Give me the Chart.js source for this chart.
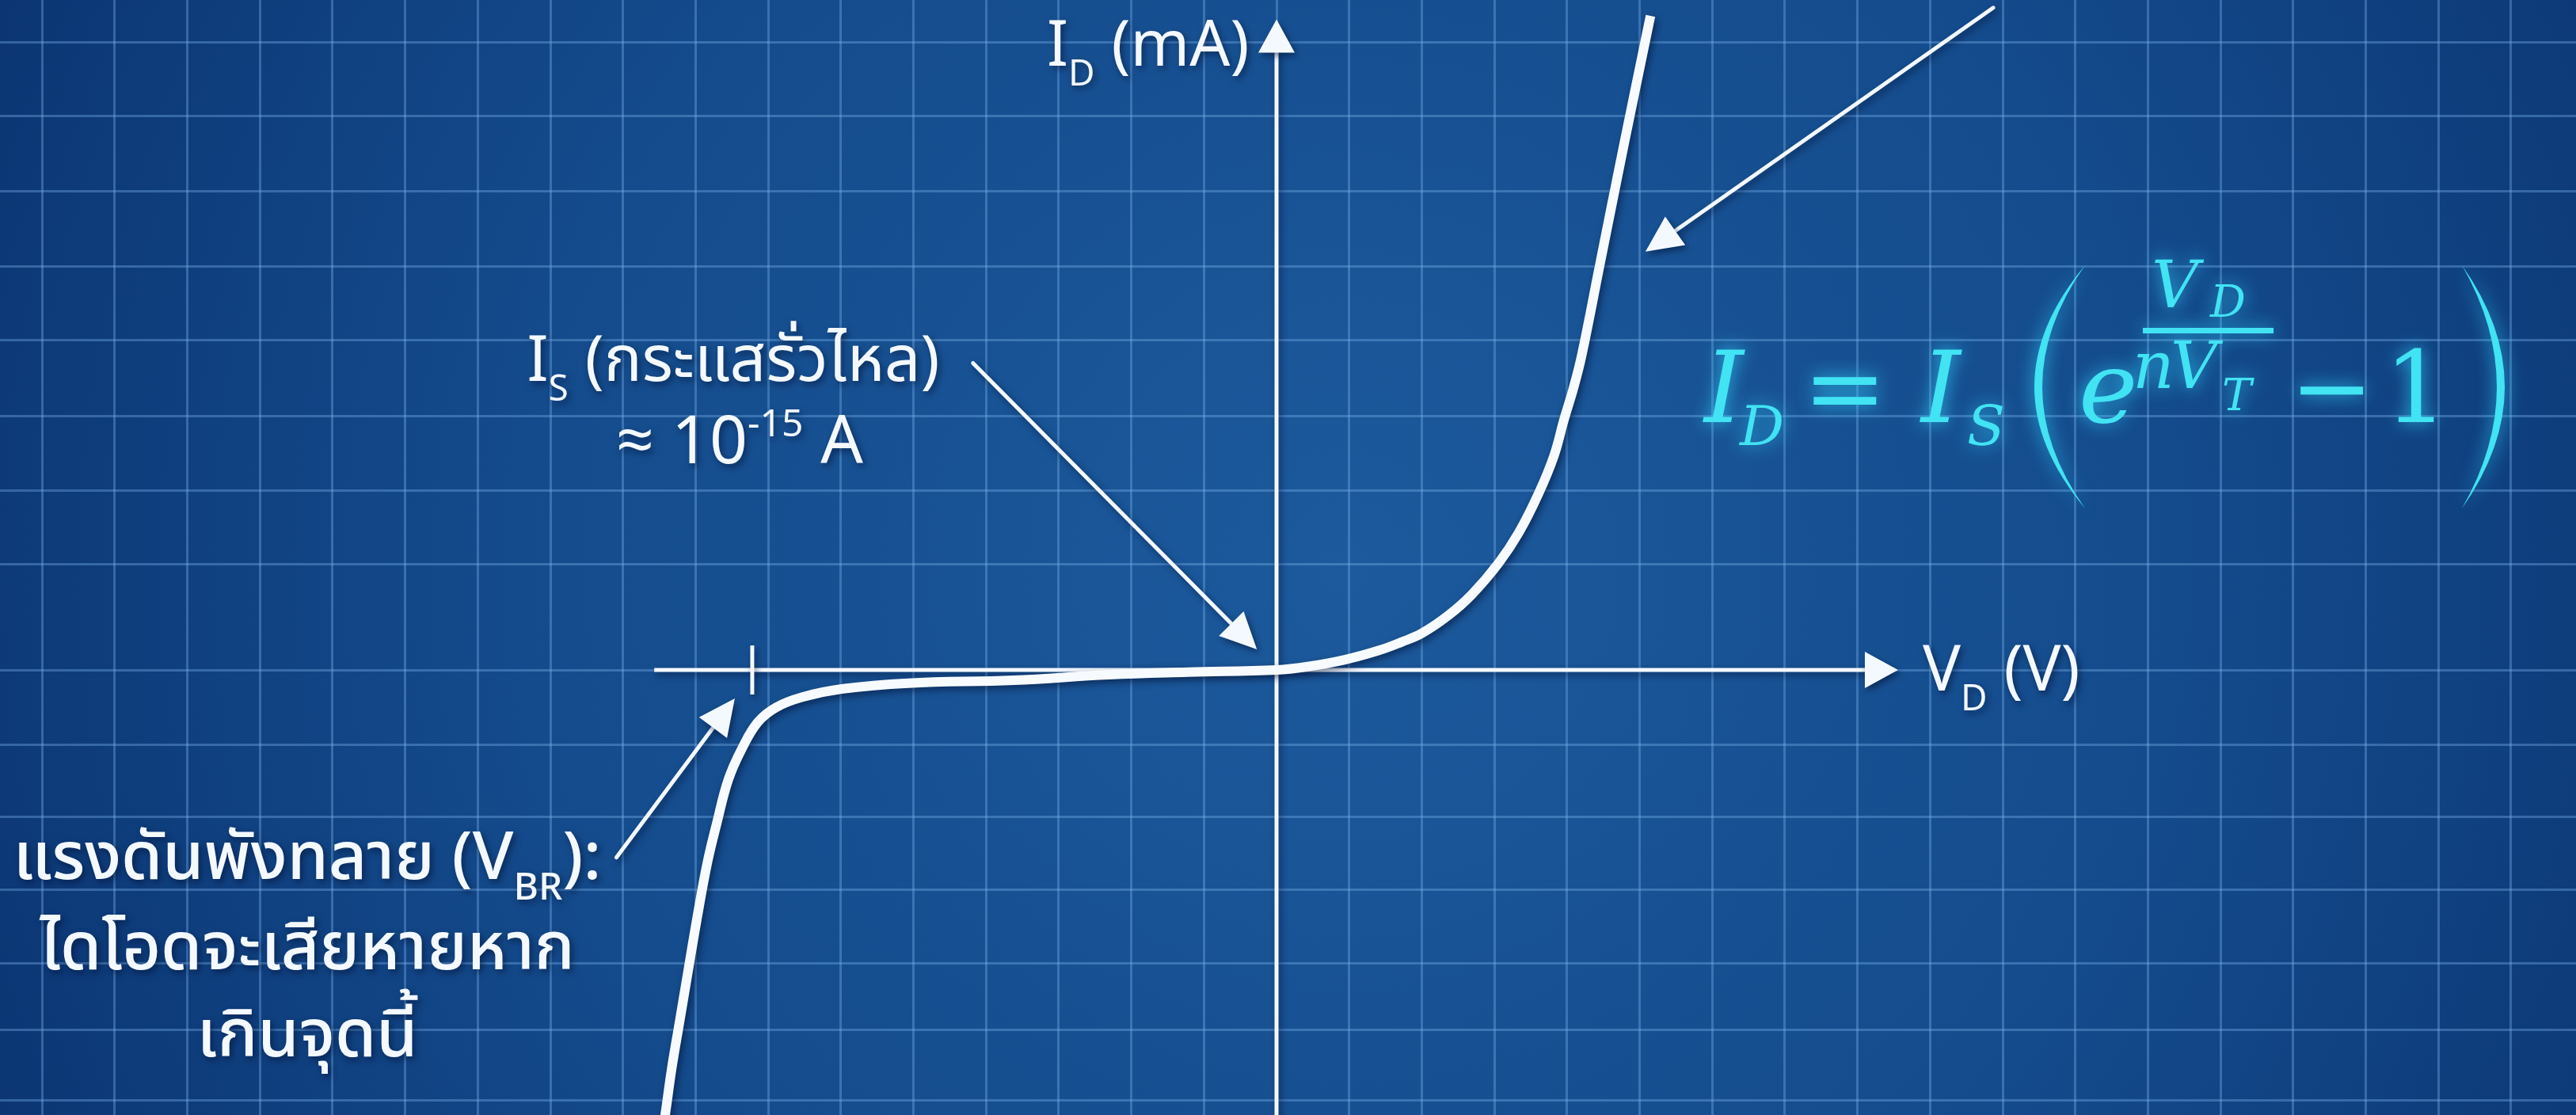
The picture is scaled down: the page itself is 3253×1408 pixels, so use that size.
<!DOCTYPE html>
<html>
<head>
<meta charset="utf-8">
<title>Curva I-V del diodo</title>
<script src="https://cdn.jsdelivr.net/npm/chart.js@4.4.1/dist/chart.umd.min.js"></script>
<style>
    html, body { margin: 0; padding: 0; background: #0d3a75; overflow: hidden; }
    #contenitore { width: 3253px; height: 1408px; }
</style>
</head>
<body>
<div id="contenitore"><canvas id="grafico" width="3253" height="1408"></canvas></div>
<script>
// punti della curva: tensione e corrente in quadretti di griglia
var tensioni = [-8.46, -8.42, -8.33, -8.22, -8.11, -7.98, -7.84, -7.71, -7.55, -7.36, -7.14, -6.89, -6.53, -5.99, -5.07, -3.62, -2.31, -1.22,
    0, 0.41, 0.94, 1.42, 1.72, 2.00, 2.36, 2.69, 3.06, 3.34, 3.61, 3.82, 3.96, 4.09, 4.20, 4.45, 4.78, 5.15];
var correnti = [-6.31, -6.08, -5.45, -4.80, -4.15, -3.39, -2.64, -2.10, -1.50, -1.07, -0.71, -0.51, -0.37, -0.26, -0.18, -0.14, -0.065, -0.03,
    0, 0.043, 0.14, 0.27, 0.38, 0.50, 0.74, 1.03, 1.46, 1.88, 2.41, 2.92, 3.42, 3.85, 4.28, 5.52, 7.15, 8.93];

// linee della griglia
var grigliaX = [];
for (var k = -17; k <= 17; k++) { grigliaX.push(k); }
var grigliaY = [8.57, 7.56, 6.53, 5.51, 4.5, 3.47, 2.45, 1.44, 0, -1.02, -2.01, -3.0, -4.01, -4.91, -5.88];

// estremi degli assi
var assiX = [-8.57, 8.56];
var cimaY = 8.88;
// tensione di rottura (V_BR)
var vBR = -7.22;

// frecce di commento: [x0, y0, x1, y1] (la punta e' in x1, y1)
var frecce = [
    [9.87, 9.04, 5.08, 5.71],
    [-4.18, 4.19, -0.27, 0.28],
    [-9.09, -2.56, -7.46, -0.39]
];

var punti = [];
for (var i = 0; i < tensioni.length; i++) {
    punti.push({x: tensioni[i], y: correnti[i]});
}

var fontTesto = '"Noto Sans Thai", "Noto Sans", "Open Sans", sans-serif';
var fontFormula = '"DejaVu Serif", "Liberation Serif", serif';

function ombra(ctx) {
    ctx.shadowColor = 'rgba(0, 12, 45, 0.55)';
    ctx.shadowBlur = 8;
    ctx.shadowOffsetX = 3;
    ctx.shadowOffsetY = 4;
}

// scrive una riga fatta di pezzi (testo normale, pedici, apici)
function scriviRiga(ctx, pezzi, x, y, allineamento) {
    var larghezza = 0;
    pezzi.forEach(function(p) {
        ctx.font = p.font;
        p.w = ctx.measureText(p.t).width;
        larghezza += p.w;
    });
    var cx = allineamento === 'center' ? x - larghezza / 2 : x;
    pezzi.forEach(function(p) {
        ctx.font = p.font;
        ctx.fillText(p.t, cx, y + (p.dy || 0));
        cx += p.w;
    });
}

// scrive un simbolo con il bordo sinistro dell'inchiostro in 'sinistra'
function simbolo(ctx, t, font, sinistra, base) {
    ctx.font = font;
    var m = ctx.measureText(t);
    ctx.fillText(t, sinistra + m.actualBoundingBoxLeft, base);
}

function freccia(ctx, x0, y0, x1, y1, lunghezza, mezza) {
    var a = Math.atan2(y1 - y0, x1 - x0);
    var bx = x1 - Math.cos(a) * lunghezza, by = y1 - Math.sin(a) * lunghezza;
    ctx.beginPath();
    ctx.moveTo(x0, y0);
    ctx.lineTo(bx + Math.cos(a) * 4, by + Math.sin(a) * 4);
    ctx.stroke();
    ctx.beginPath();
    ctx.moveTo(x1, y1);
    ctx.lineTo(bx + Math.sin(a) * mezza, by - Math.cos(a) * mezza);
    ctx.lineTo(bx - Math.sin(a) * mezza, by + Math.cos(a) * mezza);
    ctx.closePath();
    ctx.fill();
}

// parentesi tonda disegnata come mezzaluna
function parentesi(ctx, x, y0, y1, bombatura, spessore) {
    var ym = (y0 + y1) / 2;
    ctx.beginPath();
    ctx.moveTo(x, y0);
    ctx.quadraticCurveTo(x + 2 * bombatura, ym, x, y1);
    ctx.quadraticCurveTo(x + 2 * (bombatura - spessore), ym, x, y0);
    ctx.closePath();
    ctx.fill();
}

var sfondo = {
    id: 'sfondo',
    beforeDraw: function(chart) {
        var ctx = chart.ctx;
        var g = ctx.createRadialGradient(1700, 720, 0, 1700, 720, 1900);
        g.addColorStop(0, '#1c5a9d');
        g.addColorStop(0.55, '#144b8c');
        g.addColorStop(1, '#0b3472');
        ctx.save();
        ctx.fillStyle = g;
        ctx.fillRect(0, 0, chart.width, chart.height);
        ctx.restore();
    }
};

var disegni = {
    id: 'disegni',
    beforeDatasetsDraw: function(chart) {
        var ctx = chart.ctx;
        var sx = chart.scales.x, sy = chart.scales.y;
        var x0 = sx.getPixelForValue(0), y0 = sy.getPixelForValue(0);
        ctx.save();
        ombra(ctx);
        ctx.strokeStyle = '#f4f9ff';
        ctx.fillStyle = '#f4f9ff';
        ctx.lineWidth = 5;
        // asse orizzontale
        freccia(ctx, sx.getPixelForValue(assiX[0]), y0, sx.getPixelForValue(assiX[1]), y0, 42, 23);
        // asse verticale
        freccia(ctx, x0, chart.height + 10, x0, sy.getPixelForValue(cimaY), 42, 23);
        // tacca su V_BR
        var xb = sx.getPixelForValue(vBR);
        ctx.beginPath();
        ctx.moveTo(xb, y0 - 31);
        ctx.lineTo(xb, y0 + 31);
        ctx.stroke();
        ctx.restore();
    },
    beforeDatasetDraw: function(chart) {
        chart.ctx.save();
        ombra(chart.ctx);
        chart.ctx.shadowBlur = 10;
    },
    afterDatasetDraw: function(chart) {
        chart.ctx.restore();
    },
    afterDraw: function(chart) {
        var ctx = chart.ctx;
        var sx = chart.scales.x, sy = chart.scales.y;
        ctx.save();
        ombra(ctx);
        ctx.strokeStyle = '#f4f9ff';
        ctx.fillStyle = '#f4f9ff';
        ctx.lineWidth = 5;
        ctx.lineCap = 'round';
        frecce.forEach(function(f) {
            freccia(ctx, sx.getPixelForValue(f[0]), sy.getPixelForValue(f[1]),
                sx.getPixelForValue(f[2]), sy.getPixelForValue(f[3]), 46, 22);
        });

        // etichette
        ctx.textBaseline = 'alphabetic';
        var grande = '80px ' + fontTesto;
        var piccolo = '46px ' + fontTesto;
        var thai = '500 84px ' + fontTesto;
        var thaiPiccolo = '500 48px ' + fontTesto;
        scriviRiga(ctx, [
            {t: 'I', font: grande},
            {t: 'D', font: piccolo, dy: 25},
            {t: ' (mA)', font: grande}
        ], 1322, 83, 'left');
        scriviRiga(ctx, [
            {t: 'V', font: grande},
            {t: 'D', font: piccolo, dy: 25},
            {t: ' (V)', font: grande}
        ], 2428, 872, 'left');
        scriviRiga(ctx, [
            {t: 'I', font: grande},
            {t: 'S', font: piccolo, dy: 25},
            {t: ' (กระแสรั่วไหล)', font: grande}
        ], 926, 481, 'center');
        scriviRiga(ctx, [
            {t: '≈ 10', font: '84px ' + fontTesto},
            {t: '-15', font: '48px ' + fontTesto, dy: -34},
            {t: ' A', font: '84px ' + fontTesto}
        ], 934, 585, 'center');
        scriviRiga(ctx, [
            {t: 'แรงดันพังทลาย (V', font: thai},
            {t: 'BR', font: thaiPiccolo, dy: 26},
            {t: '):', font: thai}
        ], 388, 1110, 'center');
        scriviRiga(ctx, [{t: 'ไดโอดจะเสียหายหาก', font: thai}], 388, 1224, 'center');
        scriviRiga(ctx, [{t: 'เกินจุดนี้', font: thai}], 388, 1334, 'center');
        ctx.restore();

        // equazione di Shockley
        ctx.save();
        ctx.fillStyle = '#42e3f3';
        ctx.shadowColor = 'rgba(50, 215, 255, 0.85)';
        ctx.shadowBlur = 22;
        var it = 'italic 126px ' + fontFormula;
        var itSub = 'italic 70px ' + fontFormula;
        var dritto = '126px ' + fontFormula;
        var itFraz = 'italic 82px ' + fontFormula;
        var itFrazSub = 'italic 56px ' + fontFormula;
        simbolo(ctx, 'I', it, 2150, 533);
        simbolo(ctx, 'D', itSub, 2195, 562);
        simbolo(ctx, '=', dritto, 2290, 533);
        simbolo(ctx, 'I', it, 2424, 533);
        simbolo(ctx, 'S', itSub, 2486, 562);
        parentesi(ctx, 2633, 335, 642, -54, 10);
        simbolo(ctx, 'e', it, 2630, 533);
        simbolo(ctx, 'V', itFraz, 2721, 388);
        simbolo(ctx, 'D', itFrazSub, 2790, 400);
        ctx.fillRect(2706, 414, 165, 7);
        simbolo(ctx, 'n', itFraz, 2698, 490);
        simbolo(ctx, 'V', itFraz, 2745, 490);
        simbolo(ctx, 'T', itFrazSub, 2808, 518);
        simbolo(ctx, '−', dritto, 2905, 533);
        simbolo(ctx, '1', dritto, 3026, 533);
        parentesi(ctx, 3109, 335, 642, 54, 10);
        ctx.restore();
    }
};

var ctx = document.getElementById('grafico').getContext('2d');

var grafico = new Chart(ctx, {
    type: 'scatter',
    data: {
        datasets: [{
            label: 'I-V',
            data: punti,
            showLine: true,
            borderColor: '#f7fbff',
            borderWidth: 12,
            borderCapStyle: 'butt',
            borderJoinStyle: 'round',
            tension: 0.4,
            pointRadius: 0,
            clip: false
        }]
    },
    options: {
        responsive: false,
        devicePixelRatio: 1,
        animation: false,
        layout: { padding: 0 },
        plugins: {
            legend: { display: false },
            tooltip: { enabled: false }
        },
        scales: {
            x: {
                type: 'linear',
                min: -1612 / 91.7,
                max: (3253 - 1612) / 91.7,
                afterBuildTicks: function(scala) {
                    scala.ticks = grigliaX.map(function(v) { return {value: v}; });
                },
                ticks: { display: false },
                grid: { color: 'rgba(120, 175, 235, 0.38)', lineWidth: 3, drawTicks: false },
                border: { display: false }
            },
            y: {
                type: 'linear',
                min: -(1408 - 846) / 92.5,
                max: 846 / 92.5,
                afterBuildTicks: function(scala) {
                    scala.ticks = grigliaY.map(function(v) { return {value: v}; });
                },
                ticks: { display: false },
                grid: { color: 'rgba(120, 175, 235, 0.38)', lineWidth: 3, drawTicks: false },
                border: { display: false }
            }
        }
    },
    plugins: [sfondo, disegni]
});
</script>
</body>
</html>
